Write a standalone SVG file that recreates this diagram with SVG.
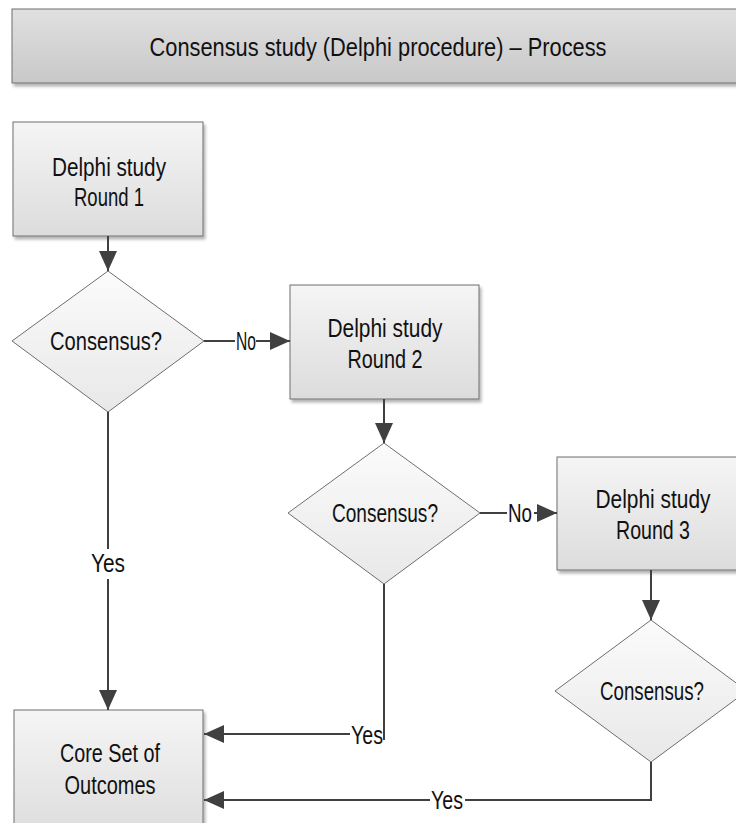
<svg xmlns="http://www.w3.org/2000/svg" width="736" height="823" viewBox="0 0 736 823">
<defs>
<linearGradient id="gBox" x1="0" y1="0" x2="0" y2="1"><stop offset="0" stop-color="#f5f5f5"/><stop offset="1" stop-color="#dcdcdc"/></linearGradient>
<linearGradient id="gTitle" x1="0" y1="0" x2="0" y2="1"><stop offset="0" stop-color="#e0e0e0"/><stop offset="1" stop-color="#c8c8c8"/></linearGradient>
<linearGradient id="gDia" x1="0" y1="0" x2="0" y2="1"><stop offset="0" stop-color="#fbfbfb"/><stop offset="1" stop-color="#e8e8e8"/></linearGradient>
<filter id="sh" x="-10%" y="-10%" width="130%" height="130%"><feGaussianBlur in="SourceAlpha" stdDeviation="1.5"/><feOffset dx="2" dy="3"/><feComponentTransfer><feFuncA type="linear" slope="0.3"/></feComponentTransfer><feMerge><feMergeNode/><feMergeNode in="SourceGraphic"/></feMerge></filter>
<marker id="ahb" viewBox="0 0 20 18" refX="20" refY="9" markerWidth="20" markerHeight="18" markerUnits="userSpaceOnUse" orient="auto"><path d="M0,0 L20,9 L0,18 z" fill="#404040"/></marker>
</defs>
<style>
.box{fill:url(#gBox);stroke:#6e6e6e;stroke-width:1;filter:url(#sh)}
.title{fill:url(#gTitle);stroke:#6e6e6e;stroke-width:1;filter:url(#sh)}
.dia{fill:url(#gDia);stroke:#6e6e6e;stroke-width:1}
.t{font-family:"Liberation Sans",Arial,sans-serif;font-size:25px;fill:#111;text-anchor:middle}
.c{fill:none;stroke:#404040;stroke-width:2}
</style>

<g id="title">
<rect class="title" x="12" y="9" width="740" height="74"/>
<text class="t" x="378" y="56" textLength="457" lengthAdjust="spacingAndGlyphs">Consensus study (Delphi procedure) – Process</text>
</g>

<g id="round1">
<rect class="box" x="13" y="122" width="190" height="114"/>
<text class="t" x="109" y="176" textLength="114" lengthAdjust="spacingAndGlyphs">Delphi study</text>
<text class="t" x="109" y="206" textLength="70" lengthAdjust="spacingAndGlyphs">Round 1</text>
</g>

<g id="consensus1">
<polygon class="dia" points="108,271 204,341 108,412 12,341"/>
<text class="t" x="106" y="350" textLength="112" lengthAdjust="spacingAndGlyphs">Consensus?</text>
</g>

<g id="round2">
<rect class="box" x="290" y="285" width="189" height="114"/>
<text class="t" x="385" y="337" textLength="115" lengthAdjust="spacingAndGlyphs">Delphi study</text>
<text class="t" x="385" y="368" textLength="75" lengthAdjust="spacingAndGlyphs">Round 2</text>
</g>

<g id="consensus2">
<polygon class="dia" points="384,443 480,513 384,584 288,513"/>
<text class="t" x="385" y="522" textLength="106" lengthAdjust="spacingAndGlyphs">Consensus?</text>
</g>

<g id="round3">
<rect class="box" x="557" y="457" width="195" height="113"/>
<text class="t" x="653" y="508" textLength="115" lengthAdjust="spacingAndGlyphs">Delphi study</text>
<text class="t" x="653" y="539" textLength="74" lengthAdjust="spacingAndGlyphs">Round 3</text>
</g>

<g id="consensus3">
<polygon class="dia" points="651,620 747,691 651,762 555,691"/>
<text class="t" x="652" y="700" textLength="104" lengthAdjust="spacingAndGlyphs">Consensus?</text>
</g>

<g id="core">
<rect class="box" x="14" y="710" width="189" height="130"/>
<text class="t" x="110" y="762" textLength="100" lengthAdjust="spacingAndGlyphs">Core Set of</text>
<text class="t" x="110" y="794" textLength="91" lengthAdjust="spacingAndGlyphs">Outcomes</text>
</g>

<g id="connectors">
<line class="c" x1="108" y1="236" x2="108" y2="271" marker-end="url(#ahb)"/>
<line class="c" x1="384" y1="399" x2="384" y2="443" marker-end="url(#ahb)"/>
<line class="c" x1="651" y1="570" x2="651" y2="620" marker-end="url(#ahb)"/>
<line class="c" x1="204" y1="341" x2="235" y2="341"/>
<line class="c" x1="256" y1="341" x2="290" y2="341" marker-end="url(#ahb)"/>
<text class="t" x="246" y="350" textLength="20" lengthAdjust="spacingAndGlyphs">No</text>
<line class="c" x1="480" y1="513" x2="507" y2="513"/>
<line class="c" x1="534" y1="513" x2="557" y2="513" marker-end="url(#ahb)"/>
<text class="t" x="520" y="522" textLength="24" lengthAdjust="spacingAndGlyphs">No</text>
<line class="c" x1="108" y1="412" x2="108" y2="549"/>
<line class="c" x1="108" y1="579" x2="108" y2="710" marker-end="url(#ahb)"/>
<text class="t" x="108" y="572" textLength="34" lengthAdjust="spacingAndGlyphs">Yes</text>
<polyline class="c" points="384,584 384,740"/>
<line class="c" x1="350" y1="734" x2="204" y2="734" marker-end="url(#ahb)"/>
<text class="t" x="367" y="744" textLength="32" lengthAdjust="spacingAndGlyphs">Yes</text>
<polyline class="c" points="651,762 651,800 465,800"/>
<line class="c" x1="430" y1="800" x2="204" y2="800" marker-end="url(#ahb)"/>
<text class="t" x="447" y="809" textLength="32" lengthAdjust="spacingAndGlyphs">Yes</text>
</g>
</svg>
